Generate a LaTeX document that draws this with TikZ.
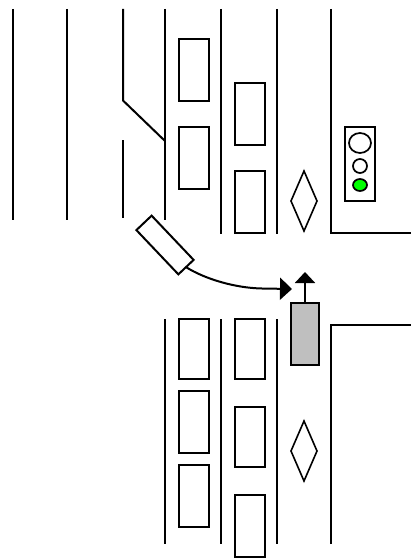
\documentclass[tikz,border=0pt]{standalone}
\usetikzlibrary{arrows.meta,shapes.geometric}
\tikzset{
  road/.style={line width=2pt,line cap=butt,line join=miter},
  slot/.style={draw,rectangle,line width=2pt,minimum width=30pt,inner sep=0pt,outer sep=0pt},
  lozenge/.style={draw,diamond,line width=1.6pt,aspect=0.43,minimum width=26pt,minimum height=60pt,inner sep=0pt,outer sep=0pt},
  lamp/.style={draw,ellipse,line width=1.7pt,inner sep=0pt,outer sep=0pt},
  move/.style={line width=2pt,-{Triangle[length=12pt,width=22pt]}}
}
\begin{document}
\begin{tikzpicture}[x=1pt,y=-1pt]
\useasboundingbox (0,0) rectangle (411,559);
\fill[white] (0,0) rectangle (411,559);
% upper road lines
\draw[road] (13,9) -- (13,220);
\draw[road] (67,9) -- (67,220);
\draw[road] (123,9) -- (123,100.5) -- (165,141);
\draw[road] (123,140) -- (123,218);
\draw[road] (165,9) -- (165,220);
\draw[road] (221,9) -- (221,234);
\draw[road] (277,9) -- (277,234);
\draw[road] (331,9) -- (331,233) -- (411,233);
% lower road lines
\draw[road] (165,319) -- (165,544);
\draw[road] (221,319) -- (221,544);
\draw[road] (277,319) -- (277,544);
\draw[road] (331,544) -- (331,325) -- (411,325);
% upper stalls
\node[slot,minimum height=62pt] (a1) at (194,70) {};
\node[slot,minimum height=62pt] (a2) at (194,158) {};
\node[slot,minimum height=62pt] (b1) at (250,114) {};
\node[slot,minimum height=62pt] (b2) at (250,202) {};
% lower stalls
\node[slot,minimum height=60pt] (c1) at (194,349) {};
\node[slot,minimum height=62pt] (c2) at (194,422) {};
\node[slot,minimum height=62pt] (c3) at (194,496) {};
\node[slot,minimum height=60pt] (d1) at (250,349) {};
\node[slot,minimum height=60pt] (d2) at (250,437) {};
\node[slot,minimum height=62pt] (d3) at (250,526) {};
% lane diamonds
\node[lozenge] (m1) at (304,201) {};
\node[lozenge] (m2) at (304,451) {};
% signal
\node[draw,rectangle,line width=2pt,minimum width=30pt,minimum height=74pt,inner sep=0pt,outer sep=0pt] (sig) at (360,164) {};
\node[lamp,minimum width=22pt,minimum height=20pt] (l1) at (360,143) {};
\node[lamp,minimum width=14pt,minimum height=14pt] (l2) at (360,166) {};
\node[lamp,fill=green,minimum width=14pt,minimum height=12pt] (l3) at (360,185) {};
% turning vehicle
\node[draw,rectangle,line width=2pt,minimum width=61pt,minimum height=21pt,inner sep=0pt,outer sep=0pt,rotate=-46.5] (truck) at (165,245) {};
\coordinate (turnend) at (292,289);
\draw[move] (truck.east) .. controls (205,279) and (235,288) .. (262,288.5) -- (turnend);
% straight vehicle
\node[draw,rectangle,fill=black!25,line width=2pt,minimum width=28pt,minimum height=62pt,inner sep=0pt,outer sep=0pt] (car) at (305,334) {};
\coordinate (carend) at (305,272);
\draw[line width=2pt,-{Triangle[length=11pt,width=20pt]}] (car.north) -- (carend);
\end{tikzpicture}
\end{document}
